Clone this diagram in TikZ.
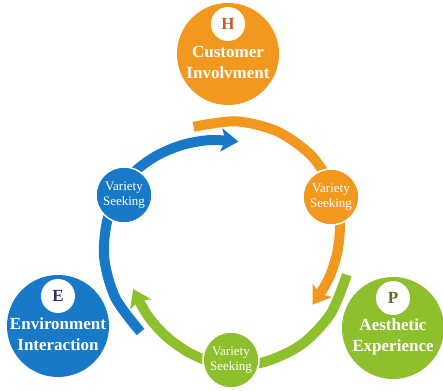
\documentclass[tikz,border=0pt]{standalone}
\usepackage{fontspec}
\setmainfont{Liberation Serif}
\usetikzlibrary{arrows.meta}
\definecolor{corange}{RGB}{242,152,30}
\definecolor{cblue}{RGB}{24,121,200}
\definecolor{cgreen}{RGB}{141,192,44}
\definecolor{hletter}{RGB}{196,92,40}
\definecolor{eletter}{RGB}{38,48,110}
\definecolor{pletter}{RGB}{92,112,40}
\begin{document}
\begin{tikzpicture}[x=1pt,y=1pt,
  big/.style={circle, minimum size=102pt, inner sep=0pt},
  badge/.style={circle, fill=white, minimum size=34pt, inner sep=0pt, font=\fontsize{17}{17}\selectfont\bfseries},
  bigtext/.style={text=white, align=center, inner sep=0pt, font=\fontsize{17}{21}\selectfont\bfseries},
  small/.style={circle, minimum size=56pt, inner sep=0pt, draw=white, line width=1.5pt, text=white, align=center, font=\fontsize{13}{15}\selectfont},
  band/.style={line width=10pt, -{Stealth[length=17pt,width=23pt,inset=4pt]}}
]
\useasboundingbox (0,0) rectangle (443,390);
\fill[white] (0,0) rectangle (443,390);
\coordinate (C) at (227.5,145);
\foreach \s/\c in {106/corange, -14/cgreen, 225/cblue}{
  \draw[band, draw=\c, shift={(C)}] plot[smooth] coordinates {(\s:123) ({\s-20}:124) ({\s-40}:124) ({\s-60}:122.5) ({\s-80}:119) ({\s-95}:114.5) ({\s-110}:110) ({\s-125}:106.5) ({\s-141}:104)};
}
% big circles
\node[big, fill=corange] (H) at (228,336) {};
\node[badge, text=hletter] (Hb) at (228,366) {H};
\node[bigtext] (Ht) at (228,327.5) {Customer\\Involvment};
\node[big, fill=cblue] (E) at (58,64) {};
\node[badge, text=eletter] (Eb) at (58,94) {E};
\node[bigtext] (Et) at (58,55.5) {Environment\\Interaction};
\node[big, fill=cgreen] (P) at (393,62) {};
\node[badge, text=pletter] (Pb) at (393,92) {P};
\node[bigtext] (Pt) at (393,53.5) {Aesthetic\\Experience};
% small circles
\node[small, fill=cblue] (s1) at (124,195) {Variety\\Seeking};
\node[small, fill=corange] (s2) at (331,193) {Variety\\Seeking};
\node[small, fill=cgreen] (s3) at (231,30) {Variety\\Seeking};
\end{tikzpicture}
\end{document}
